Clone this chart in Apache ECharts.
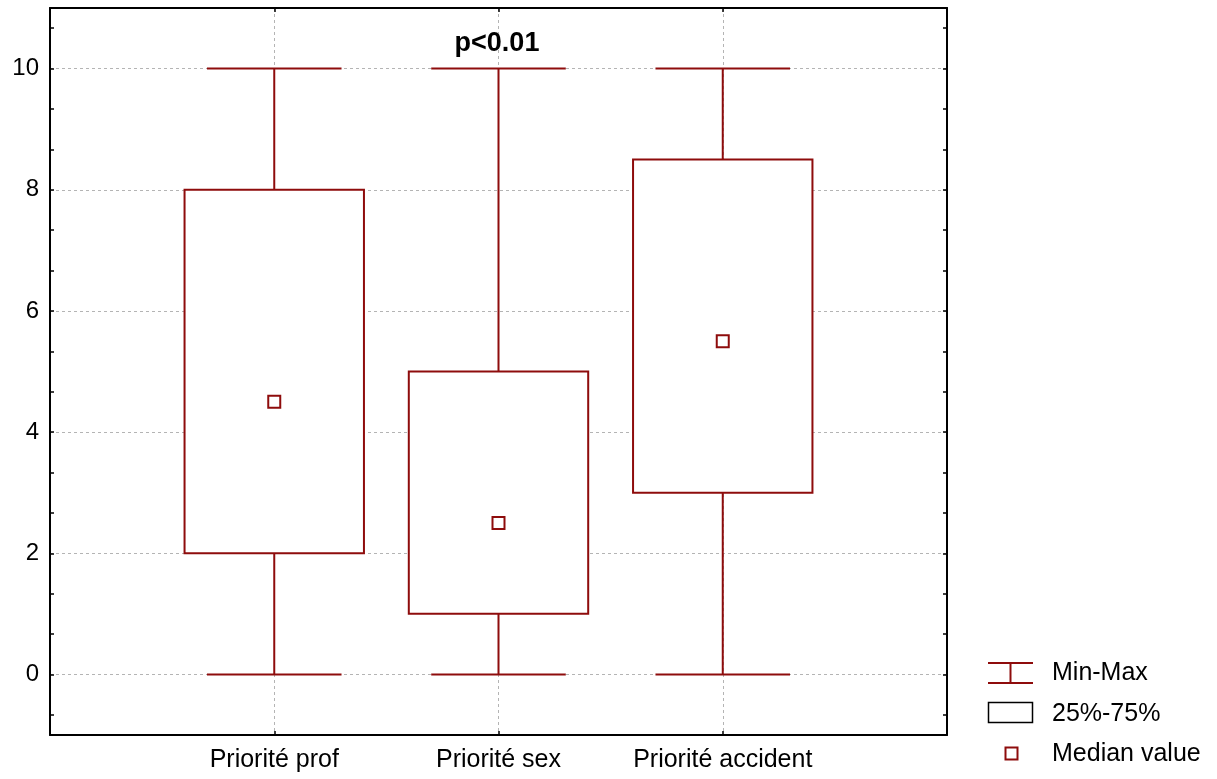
<!DOCTYPE html>
<html>
<head>
<meta charset="utf-8">
<script src="https://cdn.jsdelivr.net/npm/echarts@6/dist/echarts.min.js"></script>
<style>
  html, body { margin: 0; padding: 0; background: #fff; }
  #chart { width: 1217px; height: 779px; }
</style>
</head>
<body>
<div id="chart"></div>
<script>
// Box-plot summary per priority item (scores 0-10)
const categories   = ['Priorité prof', 'Priorité sex', 'Priorité accident'];
const minValues    = [0, 0, 0];
const maxValues    = [10, 10, 10];
const q1Values     = [2, 1, 3];
const q3Values     = [8, 5, 8.5];
const medianValues = [4.5, 2.5, 5.5];
const yTickLabels  = [0, 2, 4, 6, 8, 10];
const legendLabels = ['Min-Max', '25%-75%', 'Median value'];
const pLabel       = 'p<0.01';

const RED  = '#8e0c0c';
const FONT = '"Liberation Sans", Arial, Helvetica, sans-serif';

// categories sit at x = 1, 2, 3 on a 0..4 value axis
const xPos = categories.map((_, i) => i + 1);
const whiskerData = categories.map((_, i) => [xPos[i], minValues[i], maxValues[i]]);
const boxData     = categories.map((_, i) => [xPos[i], q1Values[i], q3Values[i]]);
const medianData  = categories.map((_, i) => [xPos[i], medianValues[i]]);

// small inward ticks: three per labelled step of 2
const yMinorTicks = [];
for (let k = -1; k <= 16; k++) yMinorTicks.push(Math.round(k * 2 / 3 * 1e6) / 1e6);

function renderWhisker(params, api) {
  const x = api.value(0);
  const lo = api.coord([x, api.value(1)]);
  const hi = api.coord([x, api.value(2)]);
  const half = api.size([0.6, 0])[0] / 2;
  const style = { stroke: RED, lineWidth: 2, fill: null };
  return {
    type: 'group',
    children: [
      { type: 'line', shape: { x1: lo[0], y1: lo[1], x2: hi[0], y2: hi[1] }, style },
      { type: 'line', shape: { x1: lo[0] - half, y1: lo[1], x2: lo[0] + half, y2: lo[1] }, style },
      { type: 'line', shape: { x1: hi[0] - half, y1: hi[1], x2: hi[0] + half, y2: hi[1] }, style }
    ]
  };
}

function renderBox(params, api) {
  const x = api.value(0);
  const top = api.coord([x, api.value(2)]);
  const bot = api.coord([x, api.value(1)]);
  const w = api.size([0.8, 0])[0];
  return {
    type: 'rect',
    shape: { x: top[0] - w / 2, y: top[1], width: w, height: bot[1] - top[1] },
    style: { fill: '#fff', stroke: RED, lineWidth: 2 }
  };
}

const gridLine = { show: true, lineStyle: { color: '#b4b4b4', width: 1, type: [3, 3] } };
const borderLine = { show: true, onZero: false, lineStyle: { color: '#000', width: 2 } };
const innerTick = { show: true, inside: true, length: 4, lineStyle: { color: '#000', width: 1.5 } };
const yTickMarks = Object.assign({}, innerTick, { customValues: yMinorTicks });

const chart = echarts.init(document.getElementById('chart'), null, { renderer: 'canvas' });

chart.setOption({
  animation: false,
  backgroundColor: '#fff',
  title: {
    text: pLabel,
    left: 492,
    top: 25,
    textAlign: 'center',
    textStyle: { fontFamily: FONT, fontSize: 27, fontWeight: 'bold', color: '#000' }
  },
  grid: { left: 50, right: 270, top: 8, bottom: 44, containLabel: false },
  xAxis: [
    {
      type: 'value', min: 0, max: 4, interval: 1, position: 'bottom',
      axisLine: borderLine,
      axisTick: innerTick,
      splitLine: gridLine,
      axisLabel: {
        margin: 13,
        fontFamily: FONT, fontSize: 25, color: '#000',
        formatter: v => categories[v - 1] || ''
      }
    },
    {
      type: 'value', min: 0, max: 4, interval: 1, position: 'top',
      axisLine: borderLine,
      axisTick: innerTick,
      splitLine: { show: false },
      axisLabel: { show: false }
    }
  ],
  yAxis: [
    {
      // labelled axis: grid lines at the even values only
      type: 'value', min: -1, max: 11, position: 'left',
      axisLine: borderLine,
      axisTick: { show: false },
      splitLine: gridLine,
      axisLabel: {
        customValues: yTickLabels,
        margin: 11,
        fontFamily: FONT, fontSize: 24, color: '#000'
      }
    },
    {
      type: 'value', min: -1, max: 11, position: 'right',
      axisLine: borderLine,
      axisTick: yTickMarks,
      splitLine: { show: false },
      axisLabel: { show: false }
    },
    {
      // tick marks on the left frame
      type: 'value', min: -1, max: 11, position: 'left',
      axisLine: { show: false, onZero: false },
      axisTick: yTickMarks,
      splitLine: { show: false },
      axisLabel: { show: false }
    }
  ],
  series: [
    {
      name: legendLabels[0],
      type: 'custom',
      renderItem: renderWhisker,
      encode: { x: 0, y: [1, 2] },
      data: whiskerData,
      z: 2
    },
    {
      name: legendLabels[1],
      type: 'custom',
      renderItem: renderBox,
      encode: { x: 0, y: [1, 2] },
      data: boxData,
      z: 3
    },
    {
      name: legendLabels[2],
      type: 'scatter',
      symbol: 'rect',
      symbolSize: 12,
      itemStyle: { color: '#fff', borderColor: RED, borderWidth: 2, opacity: 1 },
      data: medianData,
      z: 4
    }
  ],
  graphic: [
    // Min-Max key
    { type: 'line', shape: { x1: 988, y1: 663, x2: 1033, y2: 663 }, style: { stroke: RED, lineWidth: 2 } },
    { type: 'line', shape: { x1: 988, y1: 683, x2: 1033, y2: 683 }, style: { stroke: RED, lineWidth: 2 } },
    { type: 'line', shape: { x1: 1010.5, y1: 663, x2: 1010.5, y2: 683 }, style: { stroke: RED, lineWidth: 2 } },
    { type: 'text', x: 1052, y: 673, style: { text: legendLabels[0], font: '25px ' + FONT, fill: '#000', verticalAlign: 'middle' } },
    // 25%-75% key
    { type: 'rect', shape: { x: 988.5, y: 702.5, width: 44, height: 20 }, style: { fill: '#fff', stroke: '#000', lineWidth: 1.5 } },
    { type: 'text', x: 1052, y: 714, style: { text: legendLabels[1], font: '25px ' + FONT, fill: '#000', verticalAlign: 'middle' } },
    // Median key
    { type: 'rect', shape: { x: 1005.5, y: 747.5, width: 12, height: 12 }, style: { fill: '#fff', stroke: RED, lineWidth: 2 } },
    { type: 'text', x: 1052, y: 754, style: { text: legendLabels[2], font: '25px ' + FONT, fill: '#000', verticalAlign: 'middle' } }
  ]
});
</script>
</body>
</html>
